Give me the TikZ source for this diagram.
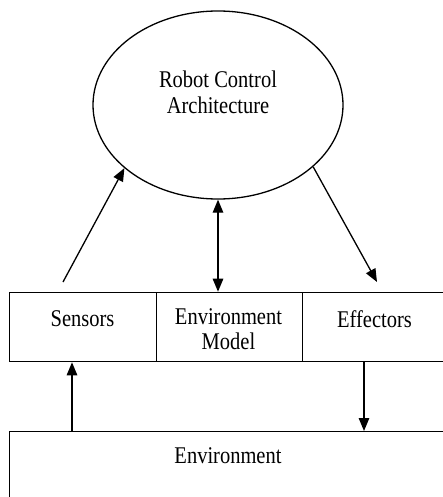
\documentclass[tikz,border=0pt]{standalone}
\usepackage{fontspec}
\usepackage{graphicx}
\setmainfont{Liberation Serif}
\usetikzlibrary{shapes.geometric,arrows.meta}
% slightly tall lettering
\newcommand{\tallword}[1]{\scalebox{1}[1.17]{#1}}
\begin{document}
\begin{tikzpicture}[x=1pt,y=-1pt,
  line width=1.3pt,
  lbl/.style={font=\fontsize{20.5}{25.5}\selectfont, align=center, inner sep=0pt},
  cell/.style={draw, rectangle, anchor=north west, minimum height=69.3pt, inner sep=0pt},
  tip/.style={Triangle[length=13pt,width=10.5pt]},
  arr/.style={-{Triangle[length=13pt,width=10.5pt]}},
  arrboth/.style={{Triangle[length=13pt,width=10.5pt]}-{Triangle[length=13pt,width=10.5pt]}}]
\useasboundingbox (0,0) rectangle (443,497);
\clip (0,0) rectangle (443,497);

% controller
\node[draw, ellipse, minimum width=250pt, minimum height=188pt, inner sep=0pt] (arch) at (218,105) {};
\node[lbl] (archT) at (218,92.5) {\tallword{Robot Control}\\\tallword{Architecture}};

% interface row
\node[cell, minimum width=146.7pt] (sens) at (9,291.7) {};
\node[cell, minimum width=146pt] (model) at (155.7,291.7) {};
\node[cell, minimum width=146pt] (eff) at (301.7,291.7) {};
\node[lbl] (sensT) at (82.5,318.5) {\tallword{Sensors}};
\node[lbl] (modelT) at (228.5,329) {\tallword{Environment}\\\tallword{Model}};
\node[lbl] (effT) at (374.5,319) {\tallword{Effectors}};

% world
\node[draw, rectangle, anchor=north west, minimum width=438pt, minimum height=110pt, inner sep=0pt] (envbox) at (9,431) {};
\node[lbl] (envT) at (228,456) {\tallword{Environment}};

% connectors
\coordinate (sensTop) at (63,282);
\coordinate (effTop) at (377,282);
\coordinate (upX) at (72,0);
\coordinate (downX) at (364,0);
\draw[arr] (sensTop) -- (arch.214);
\draw[arr] (arch.327) -- (effTop);
\draw[arrboth] (arch.south) -- (model.north -| arch.south);
\draw[arr] (envbox.north -| upX) -- (sens.south -| upX);
\draw[arr] (eff.south -| downX) -- (envbox.north -| downX);
\end{tikzpicture}
\end{document}
